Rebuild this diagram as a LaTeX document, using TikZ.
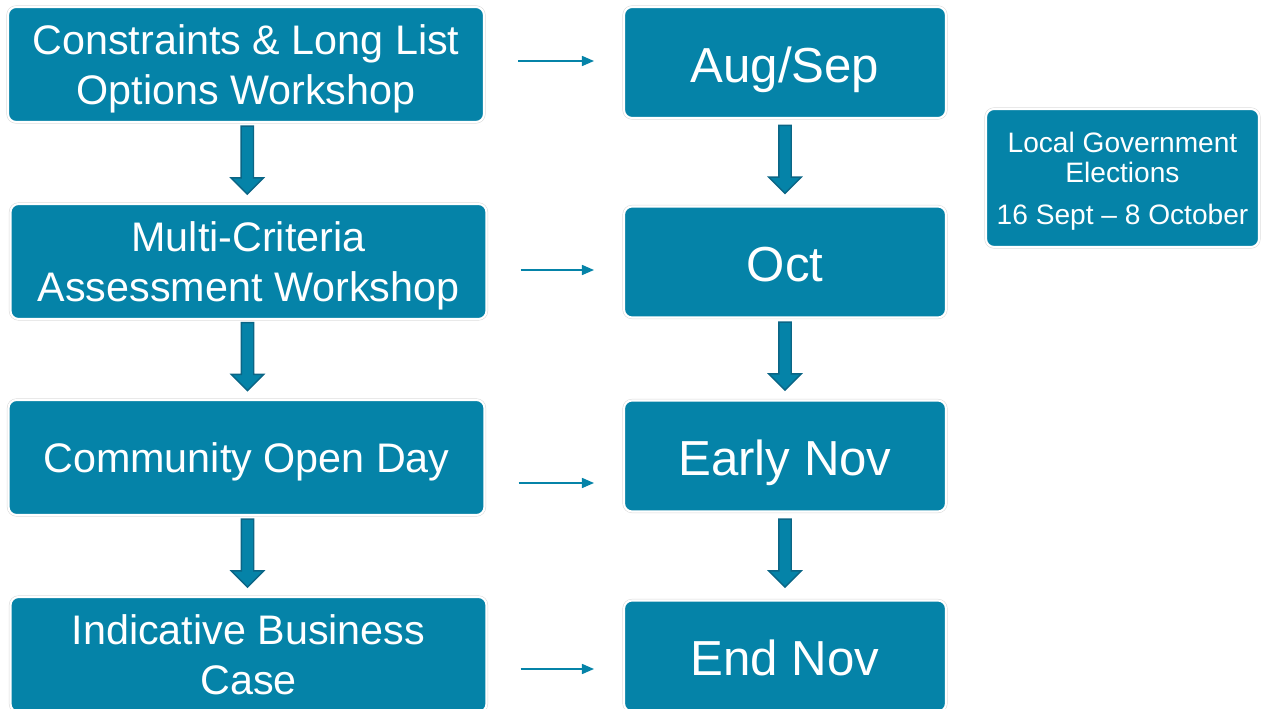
\documentclass[tikz,border=0pt]{standalone}
\usepackage{fontspec}
\setmainfont{Liberation Sans}
\usetikzlibrary{positioning, arrows.meta, shapes.arrows}
\definecolor{boxblue}{HTML}{0583A8}
\definecolor{arrowedge}{HTML}{0B6585}
\tikzset{
  panel/.style={fill=boxblue, text=white, rounded corners=0.16cm, align=center, inner sep=0pt, text depth=0pt,
                preaction={draw=black!15, line width=1.8pt}, draw=white, line width=1.2pt},
  task/.style={panel, minimum width=9.52cm, minimum height=2.3cm, font=\fontsize{23.5}{28}\selectfont},
  when/.style={panel, minimum width=6.44cm, minimum height=2.22cm, text height=22.4pt,
               font=\fontsize{28}{32}\selectfont},
  note/.style={panel, minimum width=5.46cm, minimum height=2.76cm, font=\fontsize{16}{17}\selectfont},
  blk/.style={single arrow, shape border rotate=270, fill=boxblue, draw=arrowedge, line width=0.8pt,
              minimum height=1.36cm, minimum width=0.62cm, single arrow head extend=0.2cm, inner sep=0.11cm,
              yshift=0.12cm},
  link/.style={-{Triangle[length=0.24cm, width=0.2cm]}, line width=0.85pt, boxblue,
               shorten <=0.66cm, shorten >=0.58cm}
}

\begin{document}
\begin{tikzpicture}[x=0.02cm, y=-0.02cm]
  \useasboundingbox (0,0) rectangle (1265,709);
  % steps
  \node[task] (l1) at (246,64.5) {Constraints \& Long List\\Options Workshop};
  \node[task] (l2) at (248.5,261.5) {Multi-Criteria\\Assessment Workshop};
  \node[task] (l3) at (246.5,457.5) {Community Open Day};
  \node[task] (l4) at (248.5,654.5) {Indicative Business\\Case};
  % timing
  \node[when] (r1) at (785,62.5) {Aug/Sep};
  \node[when] (r2) at (785,262) {Oct};
  \node[when] (r3) at (785,456) {Early Nov};
  \node[when] (r4) at (785,656) {End Nov};
  % elections
  \node[note] (elc) at (1122.5,178) {Local Government\\Elections\\[7pt]16 Sept -- 8 October};
  % down arrows
  \foreach \a/\b in {l1/l2,l2/l3,l3/l4,r1/r2,r2/r3,r3/r4}
    \path (\a.south) -- node[blk]{} (\b.north);
  % step to timing
  \foreach \i/\s in {1/0.07cm,2/-0.17cm,3/-0.51cm,4/-0.29cm}{
    \coordinate (a\i) at ([yshift=\s]l\i.east);
    \draw[link] (a\i) -- (a\i -| r\i.west);
  }
\end{tikzpicture}
\end{document}
